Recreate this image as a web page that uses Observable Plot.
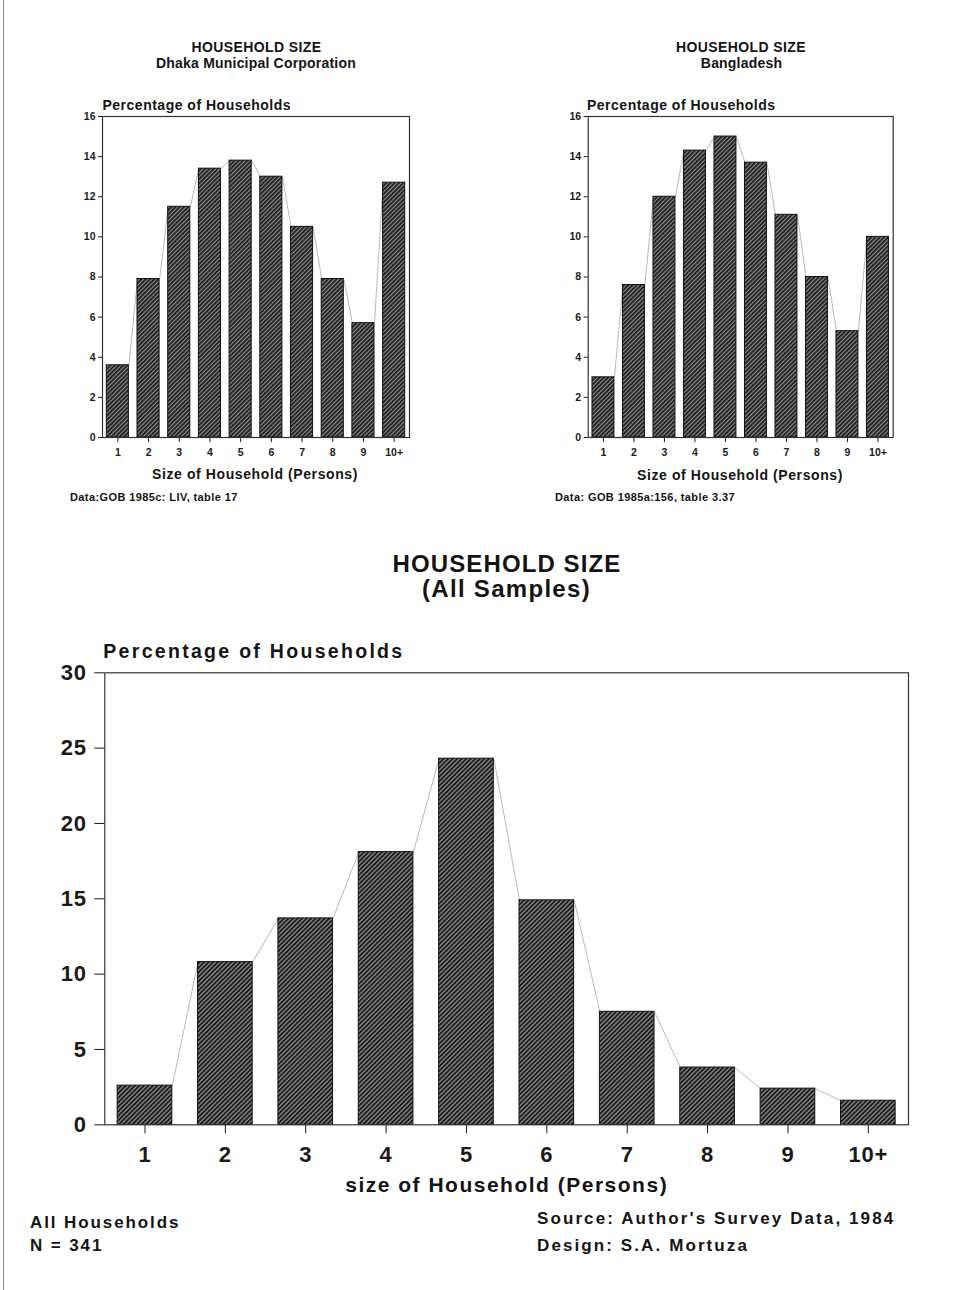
<!DOCTYPE html>
<html>
<head>
<meta charset="utf-8">
<script src="https://cdn.jsdelivr.net/npm/d3@7"></script>
<script src="https://cdn.jsdelivr.net/npm/@observablehq/plot@0.6"></script>
<style>
  html, body { margin: 0; padding: 0; background: #fff; }
  #page { position: relative; width: 953px; height: 1290px; background: #fff; overflow: hidden; }
  #page .edge { position: absolute; left: 3px; top: 0; width: 0; height: 1290px; border-left: 1px solid #8a8a8a; }
  #page svg { position: absolute; }
</style>
</head>
<body>
<div id="page"><div class="edge"></div></div>
<script>
// ---- data ----
const categories = ["1", "2", "3", "4", "5", "6", "7", "8", "9", "10+"];
const dhakaValues = [3.6, 7.9, 11.5, 13.4, 13.8, 13.0, 10.5, 7.9, 5.7, 12.7];
const bangladeshValues = [3.0, 7.6, 12.0, 14.3, 15.0, 13.7, 11.1, 8.0, 5.3, 10.0];
const allSamplesValues = [2.6, 10.8, 13.7, 18.1, 24.3, 14.9, 7.5, 3.8, 2.4, 1.6];

const FONT = "'Liberation Sans', Arial, Helvetica, sans-serif";
const page = document.getElementById("page");

function addText(txt, o) {
  const size = o.size;
  const d = document.createElement("div");
  d.textContent = txt;
  Object.assign(d.style, {
    position: "absolute",
    left: o.x + "px",
    top: (o.baseline - 0.8465 * size) + "px",
    fontSize: size + "px",
    lineHeight: size + "px",
    fontFamily: FONT,
    fontWeight: o.weight || "bold",
    letterSpacing: (o.spacing || 0) + "px",
    whiteSpace: "nowrap",
    color: "#141414"
  });
  if (o.anchor === "middle") d.style.transform = "translateX(-50%)";
  page.appendChild(d);
}

function drawChart(c) {
  const data = c.values.map((v, i) => ({k: i + 1, v}));
  const links = data.slice(0, -1).map((d, i) => ({
    x1: d.k + c.hw, y1: d.v, x2: data[i + 1].k - c.hw, y2: data[i + 1].v
  }));
  const svg = Plot.plot({
    width: c.width, height: c.height,
    marginTop: c.mt, marginRight: c.mr, marginBottom: c.mb, marginLeft: c.ml,
    style: {
      fontFamily: FONT, fontSize: c.font + "px", fontWeight: "bold",
      letterSpacing: (c.ls || 0) + "px",
      background: "transparent", color: "#1a1a1a", overflow: "visible"
    },
    x: {domain: [0.5, 10.5], ticks: 10, tickFormat: d => categories[Math.round(d) - 1] || "",
        tickSize: c.xSize, tickPadding: c.xPad, label: null},
    y: {domain: [0, c.yMax], ticks: c.yTicks, tickSize: c.ySize, tickPadding: c.yPad, label: null},
    marks: [
      Plot.link(links, {x1: "x1", y1: "y1", x2: "x2", y2: "y2", stroke: "#a8a8a8", strokeWidth: 0.8}),
      Plot.rect(data, {x1: d => d.k - c.hw, x2: d => d.k + c.hw, y1: d => 0, y2: "v",
        fill: `url(#${c.id})`, stroke: "#111", strokeWidth: 1}),
      Plot.frame({stroke: "#333", strokeWidth: 1.2})
    ]
  });
  const ns = "http://www.w3.org/2000/svg";
  const defs = document.createElementNS(ns, "defs");
  const s = c.hatch;
  defs.innerHTML = `<pattern id="${c.id}" patternUnits="userSpaceOnUse" width="${s}" height="${s}" patternTransform="rotate(45)">
      <rect width="${s}" height="${s}" fill="#8c8c8c"></rect>
      <line x1="${s * 0.3}" y1="0" x2="${s * 0.3}" y2="${s}" stroke="#1c1c1c" stroke-width="${s * 0.6}"></line>
    </pattern>`;
  svg.insertBefore(defs, svg.firstChild);
  svg.style.left = c.left + "px";
  svg.style.top = c.top + "px";
  page.appendChild(svg);
}

// ---- top-left: Dhaka ----
drawChart({values: dhakaValues, id: "hatchA", hatch: 3,
  left: 0, top: 80, width: 470, height: 430, mt: 36, mr: 61, mb: 73, ml: 102,
  yMax: 16, yTicks: 8, hw: 0.36, font: 10.5, xSize: 5, xPad: 6, ySize: 4, yPad: 3});
addText("HOUSEHOLD SIZE", {x: 256.5, baseline: 52, size: 14, anchor: "middle", spacing: 0.4});
addText("Dhaka Municipal Corporation", {x: 256, baseline: 68, size: 14, anchor: "middle", spacing: 0.2});
addText("Percentage of Households", {x: 102.5, baseline: 109.5, size: 14, spacing: 0.5});
addText("Size of Household (Persons)", {x: 255, baseline: 479, size: 14, anchor: "middle", spacing: 0.6});
addText("Data:GOB 1985c: LIV, table 17", {x: 70, baseline: 501.5, size: 11, spacing: 0.4});

// ---- top-right: Bangladesh ----
drawChart({values: bangladeshValues, id: "hatchB", hatch: 3,
  left: 480, top: 80, width: 473, height: 430, mt: 36, mr: 60.3, mb: 73, ml: 107.7,
  yMax: 16, yTicks: 8, hw: 0.36, font: 10.5, xSize: 5, xPad: 6, ySize: 4, yPad: 3});
addText("HOUSEHOLD SIZE", {x: 741, baseline: 52, size: 14, anchor: "middle", spacing: 0.4});
addText("Bangladesh", {x: 741.5, baseline: 67.5, size: 14, anchor: "middle", spacing: 0.2});
addText("Percentage of Households", {x: 587, baseline: 109.5, size: 14, spacing: 0.5});
addText("Size of Household (Persons)", {x: 740, baseline: 479.5, size: 14, anchor: "middle", spacing: 0.6});
addText("Data: GOB 1985a:156, table 3.37", {x: 555, baseline: 501.5, size: 11, spacing: 0.4});

// ---- middle title ----
addText("HOUSEHOLD SIZE", {x: 507, baseline: 572.5, size: 24, anchor: "middle", spacing: 1.1});
addText("(All Samples)", {x: 506.5, baseline: 597.5, size: 24, anchor: "middle", spacing: 1.3});

// ---- bottom: all samples ----
drawChart({values: allSamplesValues, id: "hatchC", hatch: 3.2,
  left: 0, top: 640, width: 953, height: 560, mt: 32.3, mr: 45, mb: 75.7, ml: 104.3,
  yMax: 30, yTicks: 6, hw: 0.34, font: 22, ls: 0.8, xSize: 9, xPad: 13, ySize: 10, yPad: 8});
addText("Percentage of Households", {x: 103.3, baseline: 658.5, size: 19.5, spacing: 2.3});
addText("size of Household (Persons)", {x: 506.7, baseline: 1192, size: 21, anchor: "middle", spacing: 1.5});

// ---- footer ----
addText("All Households", {x: 30, baseline: 1228, size: 17, spacing: 1.9});
addText("N = 341", {x: 30, baseline: 1251, size: 17, spacing: 1.9});
addText("Source: Author's Survey Data, 1984", {x: 537, baseline: 1224, size: 17, spacing: 2.1});
addText("Design: S.A. Mortuza", {x: 537, baseline: 1251, size: 17, spacing: 2.1});
</script>
</body>
</html>
